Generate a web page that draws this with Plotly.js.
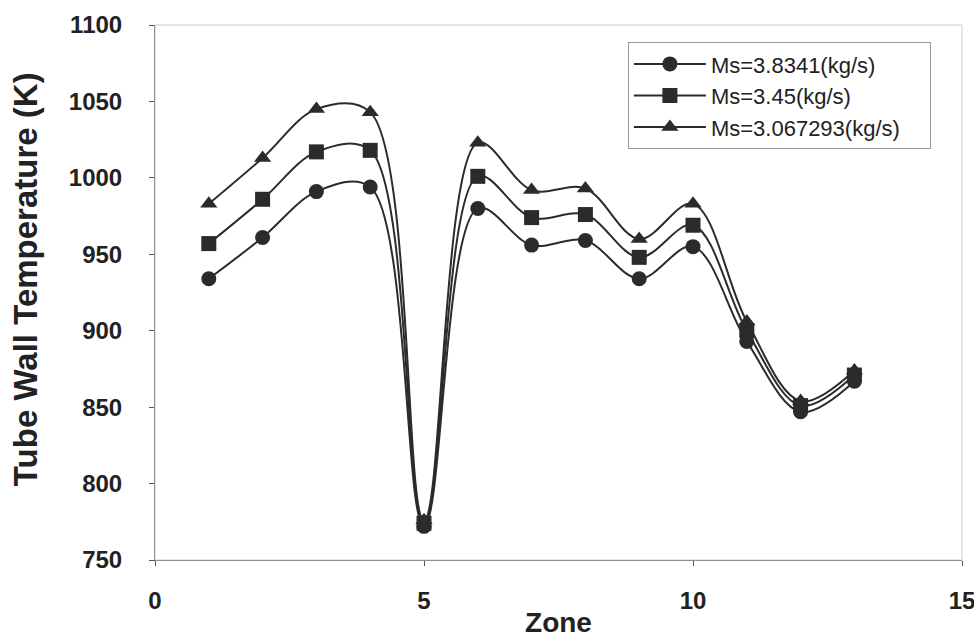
<!DOCTYPE html>
<html>
<head>
<meta charset="utf-8">
<script src="https://cdn.plot.ly/plotly-3.0.1.min.js"></script>
<style>html,body{margin:0;padding:0;background:#fff;}#chart{width:974px;height:638px;}</style>
</head>
<body>
<div id="chart"></div>
<script>
const zones = [1,2,3,4,5,6,7,8,9,10,11,12,13];
const seriesNames = ["Ms=3.8341(kg/s)", "Ms=3.45(kg/s)", "Ms=3.067293(kg/s)"];
const tempMs38341 = [934, 961, 991, 994, 772, 980, 956, 959, 934, 955, 893, 847, 867];
const tempMs345 = [957, 986, 1017, 1018, 774, 1001, 974, 976, 948, 969, 900, 851, 871];
const tempMs3067 = [983, 1013, 1045, 1043, 776, 1023, 992, 993, 960, 983, 906, 854, 874];
const xTicks = [0, 5, 10, 15];
const yTicks = [750, 800, 850, 900, 950, 1000, 1050, 1100];
const xTitle = "Zone";
const yTitle = "Tube Wall Temperature (K)";

const FONT = "Liberation Sans, Arial, sans-serif";
const symbols = ["circle", "square", "triangle-up"];
const sizes = [15, 15, 15];
const allY = [tempMs38341, tempMs345, tempMs3067];
const PAD = "\u00a0\u00a0\u00a0\u00a0";
const traces = allY.map((ys, i) => ({
  x: zones, y: ys, name: seriesNames[i] + PAD,
  type: "scatter", mode: "lines+markers",
  line: {shape: "spline", smoothing: 1, color: "#2b2b2b", width: 2},
  marker: {symbol: symbols[i], size: sizes[i], color: "#2b2b2b"}
}));

const layout = {
  width: 974, height: 638,
  paper_bgcolor: "#fff", plot_bgcolor: "#fff",
  margin: {l: 155, r: 12, t: 25, b: 78},
  font: {family: FONT, color: "#222"},
  showlegend: true,
  legend: {
    x: 0.586, y: 0.968, xanchor: "left", yanchor: "top",
    bgcolor: "#fff", bordercolor: "#999", borderwidth: 1,
    font: {size: 22, color: "#222", family: FONT}, tracegroupgap: 0,
    itemwidth: 72
  },
  xaxis: {
    range: [0, 15], tickvals: xTicks, ticktext: xTicks.map(String),
    showgrid: false, zeroline: false, showline: true, linecolor: "#555", linewidth: 1,
    ticks: "outside", ticklen: 5, tickcolor: "#555", ticklabelstandoff: 14,
    ticklabeloverflow: "allow",
    tickfont: {size: 24, family: FONT, color: "#222", weight: "bold"},
    title: {text: xTitle, font: {size: 28, color: "#222", family: FONT, weight: "bold"}, standoff: 0}
  },
  yaxis: {
    range: [750, 1100], tickvals: yTicks, ticktext: yTicks.map(String),
    showgrid: false, zeroline: false, showline: true, linecolor: "#555", linewidth: 1,
    ticks: "outside", ticklen: 5, tickcolor: "#555", ticklabelstandoff: 22,
    tickfont: {size: 24, family: FONT, color: "#222", weight: "bold"}
  },
  annotations: [{
    text: yTitle, textangle: -90, showarrow: false,
    xref: "paper", yref: "paper", x: 0, y: 0.525, xanchor: "center", yanchor: "middle",
    xshift: -130,
    font: {size: 33, color: "#222", family: FONT, weight: "bold"}
  }],
  shapes: [{
    type: "rect", xref: "paper", yref: "paper", x0: 0, x1: 1, y0: 0, y1: 1,
    line: {color: "#ccc", width: 1}
  }]
};

Plotly.newPlot("chart", traces, layout, {displayModeBar: false, staticPlot: true});
</script>
</body>
</html>
